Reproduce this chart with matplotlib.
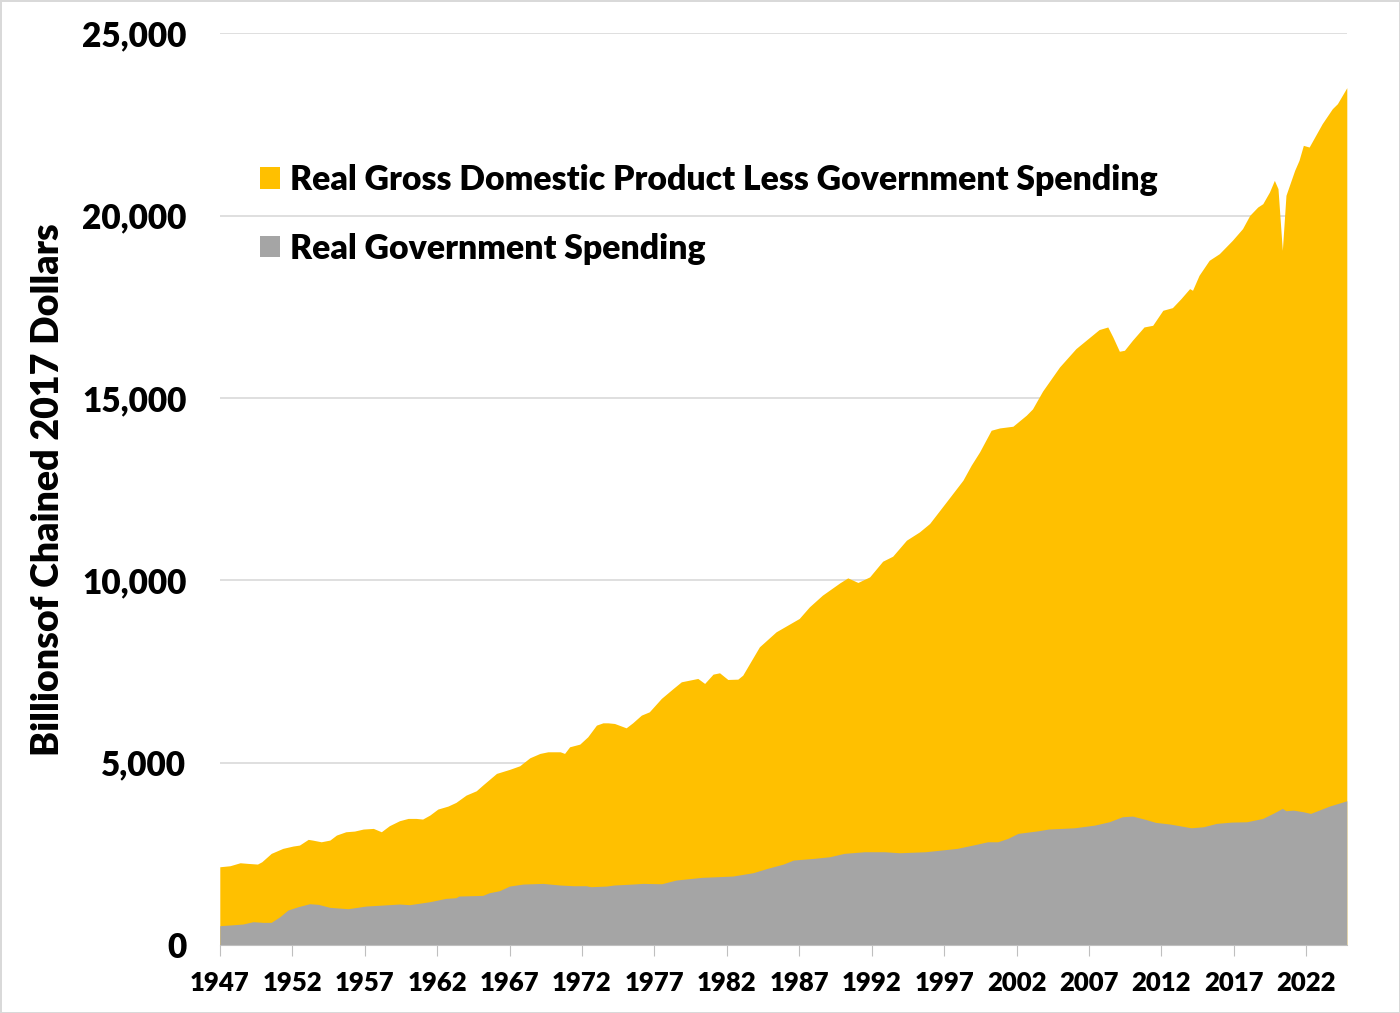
import numpy as np
import matplotlib
matplotlib.use("Agg")
import matplotlib.pyplot as plt
from matplotlib.patches import Patch

plt.rcParams['font.family'] = ['Lato', 'DejaVu Sans']
W = 'heavy'

# real GDP (top of the stack), billions of chained 2017 dollars
gdp_years = [1947.0, 1947.7, 1948.4, 1948.95, 1949.6, 1949.9, 1950.55, 1951.35, 1952.05, 1952.5,
             1953.1, 1953.4, 1954.0, 1954.6, 1955.05, 1955.7, 1956.3, 1956.9, 1957.6, 1958.15,
             1958.7, 1959.4, 1960.0, 1960.55, 1961.0, 1961.5, 1962.05, 1962.75, 1963.3, 1964.0,
             1964.7, 1965.15, 1966.1, 1967.0, 1967.7, 1968.4, 1969.1, 1969.65, 1970.5, 1970.8,
             1971.15, 1971.85, 1972.4, 1973.0, 1973.45, 1973.8, 1974.25, 1975.05, 1975.5, 1976.1,
             1976.65, 1977.48, 1978.3, 1978.86, 1980.0, 1980.47, 1981.05, 1981.5, 1982.07, 1982.76,
             1983.1, 1984.25, 1985.4, 1987.0, 1987.7, 1988.6, 1989.8, 1990.35, 1991.05, 1991.86,
             1992.76, 1993.45, 1994.4, 1995.3, 1996.0, 1997.15, 1998.3, 1998.87, 1999.45, 2000.25,
             2000.83, 2001.75, 2002.67, 2003.1, 2003.8, 2004.97, 2006.1, 2006.8, 2007.7, 2008.3,
             2008.65, 2009.1, 2009.45, 2010.0, 2010.8, 2011.4, 2012.1, 2012.76, 2013.35, 2013.95,
             2014.15, 2014.6, 2015.3, 2016.0, 2016.9, 2017.6, 2018.1, 2018.65, 2019.0, 2019.46,
             2019.8, 2020.05, 2020.35, 2020.6, 2021.2, 2021.5, 2021.8, 2022.2, 2023.1, 2023.8,
             2024.15, 2024.8]
gdp_vals = [2146, 2174, 2256, 2238, 2220, 2284, 2513, 2650, 2714, 2741,
            2897, 2878, 2831, 2878, 3015, 3106, 3125, 3180, 3198, 3106,
            3271, 3408, 3472, 3472, 3454, 3564, 3728, 3810, 3911, 4111,
            4229, 4386, 4706, 4816, 4915, 5134, 5254, 5299, 5299, 5254,
            5436, 5509, 5710, 6030, 6093, 6093, 6075, 5956, 6093, 6304,
            6395, 6762, 7036, 7218, 7310, 7173, 7428, 7465, 7282, 7291,
            7400, 8177, 8588, 8955, 9273, 9594, 9931, 10068, 9942, 10095,
            10525, 10662, 11101, 11329, 11559, 12151, 12746, 13157, 13522, 14116,
            14179, 14226, 14527, 14700, 15190, 15852, 16355, 16583, 16876, 16948,
            16674, 16282, 16309, 16583, 16948, 16994, 17405, 17478, 17725, 18000,
            17954, 18365, 18776, 18958, 19324, 19644, 20009, 20237, 20328, 20648,
            20968, 20740, 19050, 20558, 21243, 21517, 21928, 21882, 22522, 22933,
            23070, 23510]

# real government spending
gov_years = [1947.0, 1947.9, 1948.6, 1949.3, 1950.0, 1950.55, 1951.15, 1951.7, 1952.4, 1953.2,
             1953.8, 1954.6, 1955.85, 1957.1, 1958.25, 1959.4, 1960.1, 1961.5, 1962.6, 1963.3,
             1963.5, 1965.15, 1965.6, 1966.3, 1967.0, 1967.95, 1969.3, 1970.5, 1971.4, 1972.3,
             1972.6, 1973.7, 1974.2, 1975.5, 1976.2, 1977.5, 1978.5, 1980.25, 1982.4, 1983.8,
             1984.8, 1985.9, 1986.6, 1988.0, 1989.1, 1990.1, 1991.5, 1992.9, 1993.9, 1995.7,
             1996.8, 1997.9, 1999.3, 2000.0, 2000.7, 2001.4, 2002.1, 2003.5, 2004.2, 2006.0,
             2007.4, 2008.4, 2009.3, 2010.0, 2010.9, 2011.6, 2012.6, 2014.05, 2014.9, 2015.8,
             2016.85, 2017.9, 2019.0, 2019.7, 2020.35, 2020.6, 2021.1, 2021.8, 2022.3, 2023.6,
             2024.8]
gov_vals = [530, 555, 576, 640, 621, 622, 777, 959, 1050, 1133,
            1115, 1033, 996, 1069, 1096, 1124, 1106, 1188, 1279, 1297,
            1343, 1361, 1434, 1489, 1617, 1672, 1690, 1645, 1626, 1626,
            1599, 1617, 1645, 1672, 1690, 1680, 1782, 1855, 1891, 1982,
            2102, 2220, 2330, 2376, 2421, 2513, 2558, 2558, 2530, 2558,
            2604, 2650, 2768, 2831, 2831, 2924, 3061, 3133, 3180, 3215,
            3289, 3380, 3517, 3536, 3445, 3363, 3317, 3215, 3243, 3335,
            3371, 3380, 3472, 3609, 3746, 3682, 3700, 3654, 3609, 3810,
            3956]

labels = ['Real Gross Domestic Product Less Government Spending', 'Real Government Spending']
gold = '#FFC000'
grey = '#A5A5A5'

fig = plt.figure(figsize=(14, 10.13), dpi=100)
fig.patch.set_edgecolor('#d9d9d9')
fig.patch.set_linewidth(2)
ax = fig.add_axes([0.157, 0.0671, 0.805, 0.9])

# gold drawn to total GDP, grey laid on top -> same look as stacked area
ax.fill_between(gdp_years, 0, gdp_vals, color=gold, linewidth=0, zorder=2)
ax.fill_between(gov_years, 0, gov_vals, color=grey, linewidth=0, zorder=3)

ax.set_xlim(1947, 2024.8)
ax.set_ylim(0, 25000)
ax.set_yticks(np.arange(0, 25001, 5000))
ax.set_yticklabels([f'{v:,}' for v in range(0, 25001, 5000)], fontsize=24, fontweight=W)
ax.set_xticks(np.arange(1947, 2023, 5))
ax.set_xticklabels([str(y) for y in range(1947, 2023, 5)], fontsize=18.5, fontweight=W)
ax.grid(axis='y', color='#d9d9d9', linewidth=1.2, zorder=0)
ax.set_axisbelow(True)
for s in ['top', 'right', 'left']:
    ax.spines[s].set_visible(False)
ax.spines['bottom'].set_color('#bfbfbf')
ax.spines['bottom'].set_zorder(4)
ax.tick_params(axis='y', length=0, pad=24)
ax.tick_params(axis='x', length=8, color='#bfbfbf', pad=11)

ax.set_ylabel('Billionsof Chained 2017 Dollars', fontsize=27, fontweight=W, labelpad=12)

handles = [Patch(facecolor=gold), Patch(facecolor=grey)]
leg = ax.legend(handles, labels, loc='upper left', bbox_to_anchor=(0.164, 0.868),
                bbox_transform=fig.transFigure, frameon=False, fontsize=24.3,
                handlelength=0.6, handleheight=0.6, handletextpad=0.3, labelspacing=1.08)
for t in leg.get_texts():
    t.set_fontweight(W)

fig.savefig('out.png', dpi=100, edgecolor=fig.get_edgecolor())
